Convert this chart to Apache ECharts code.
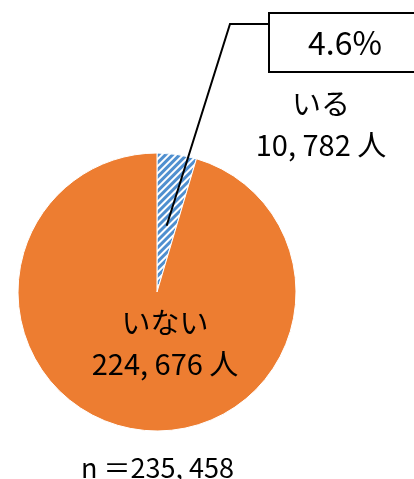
<!DOCTYPE html>
<html><head><meta charset="utf-8">
<script src="https://cdn.jsdelivr.net/npm/echarts@6/dist/echarts.min.js"></script>
<style>html,body{margin:0;padding:0;background:#fff}#c{width:414px;height:479px}</style>
</head><body><div id="c"></div>
<script>
var categories = ['いる', 'いない'];
var values = [10782, 224676];
var colors = ['#4F8FCF', '#ED7D31'];
var FONT = '"Noto Sans CJK JP", sans-serif';

var total = values.reduce(function(a, b){ return a + b; }, 0);
function fmt(n){ return n.toLocaleString('en-US').replace(/,/g, ', '); }

var CX = 157, CY = 292, R = 139, RIN = 67;
var chart = echarts.init(document.getElementById('c'), null, {renderer: 'canvas'});
var mainData = categories.map(function(c, i){
  var item = {name: c, value: values[i], itemStyle: {color: colors[i]}};
  if (i === 0) {
    item.itemStyle = {color: '#ffffff', decal: {symbol: 'rect', symbolSize: 1, color: colors[0], dashArrayX: [1, 0], dashArrayY: [2.6, 1.6], rotation: -Math.PI / 4}};
  }
  return item;
});
var pctData = categories.map(function(c, i){
  return {name: c, value: values[i], label: {show: i === 0}, labelLine: {show: i === 0}};
});
// start of leader line: mid-angle of the first slice, inside the slice
var midDeg = 90 - 360 * (values[0] / total) / 2;
var lineStart = [CX + RIN * Math.cos(midDeg * Math.PI / 180), CY - RIN * Math.sin(midDeg * Math.PI / 180)];

chart.setOption({
  animation: false,
  title: {
    text: 'n ＝' + fmt(total), left: 76, top: 449,
    textStyle: {fontFamily: FONT, fontSize: 27, fontWeight: 'normal', color: '#000'}
  },
  series: [{
    type: 'pie', center: [CX, CY], radius: [0, R], startAngle: 90, clockwise: true,
    avoidLabelOverlap: false, silent: true, z: 2,
    itemStyle: {borderColor: '#fff', borderWidth: 1},
    label: {
      show: true, position: 'inside', color: '#000', fontFamily: FONT, fontSize: 29, lineHeight: 41,
      align: 'center',
      formatter: function(p){ return p.name + '\n' + fmt(p.value) + ' 人'; }
    },
    labelLine: {show: false},
    labelLayout: function(p){
      if (p.dataIndex === 0) return {x: 321, y: 124, align: 'center', verticalAlign: 'middle'};
      return {x: 165, y: 343, align: 'center', verticalAlign: 'middle'};
    },
    data: mainData
  }, {
    type: 'pie', center: [CX, CY], radius: [0, RIN], startAngle: 90, clockwise: true,
    avoidLabelOverlap: false, silent: true, percentPrecision: 1, z: 5,
    itemStyle: {color: 'rgba(0,0,0,0)'},
    label: {
      position: 'outside', color: '#000', fontFamily: FONT, fontSize: 32,
      formatter: '{d}%', backgroundColor: '#fff', borderColor: '#000', borderWidth: 2,
      width: 150, height: 57, lineHeight: 57, align: 'center', padding: 0
    },
    labelLine: {length: 20, length2: 20, lineStyle: {color: '#000', width: 2}},
    labelLayout: function(p){
      if (p.dataIndex !== 0) return {};
      return {x: 345, y: 42.5, align: 'center', verticalAlign: 'middle',
        labelLinePoints: [lineStart, [230, 24], [271, 24]]};
    },
    data: pctData
  }]
});
</script></body></html>
